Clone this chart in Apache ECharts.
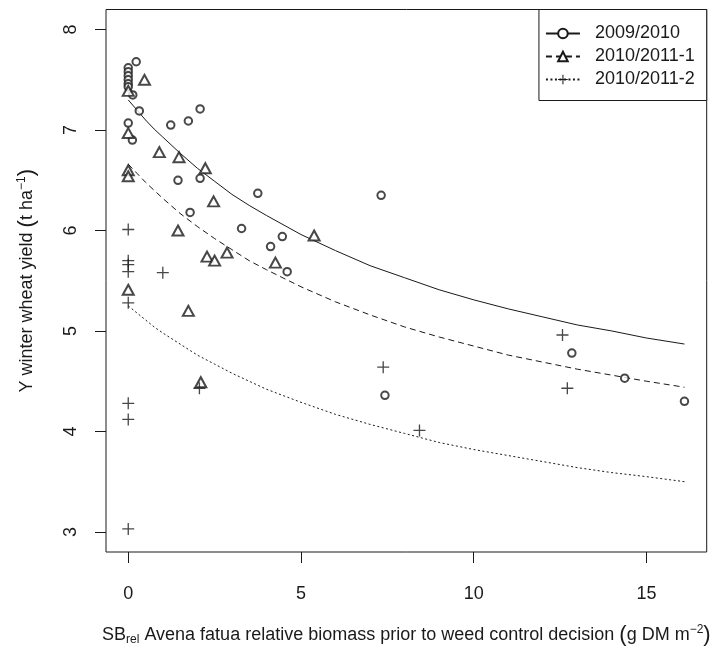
<!DOCTYPE html>
<html>
<head>
<meta charset="utf-8">
<script src="https://cdn.jsdelivr.net/npm/echarts@6/dist/echarts.min.js"></script>
<style>
html,body{margin:0;padding:0;background:#fff;}
#chart{width:718px;height:651px;}
</style>
</head>
<body>
<div id="chart"></div>
<script>
// ---- data ----
var seriesNames = ['2009/2010', '2010/2011-1', '2010/2011-2'];
var xTicks = [0, 5, 10, 15];
var yTicks = [3, 4, 5, 6, 7, 8];

var obs2009 = [
  [0, 7.62], [0, 7.58], [0, 7.54], [0, 7.50], [0, 7.46], [0, 7.43],
  [0.23, 7.68], [0.13, 7.35], [0.32, 7.19], [0, 7.07], [0.12, 6.90],
  [1.23, 7.05], [1.74, 7.09], [2.08, 7.21], [1.44, 6.50], [2.08, 6.52],
  [3.75, 6.37], [1.79, 6.18], [3.28, 6.02], [4.46, 5.94], [4.12, 5.84],
  [4.60, 5.59], [7.32, 6.35], [7.43, 4.36], [12.84, 4.78], [14.37, 4.53],
  [16.10, 4.30]
];
var obs2010a = [
  [0, 7.39], [0.47, 7.50], [0, 6.97], [0.90, 6.78], [1.47, 6.73],
  [2.23, 6.62], [0, 6.60], [0, 6.54], [2.47, 6.29], [1.44, 6.00],
  [5.38, 5.95], [2.28, 5.74], [2.50, 5.70], [2.86, 5.78], [4.26, 5.68],
  [0, 5.41], [1.74, 5.20], [2.10, 4.49]
];
var obs2010b = [
  [0, 6.01], [0, 5.70], [0, 5.66], [0, 5.59], [1.00, 5.58], [0, 5.28],
  [2.06, 4.43], [0, 4.28], [0, 4.12], [0, 3.03], [7.38, 4.64],
  [8.43, 4.01], [12.57, 4.96], [12.71, 4.43]
];

// fitted curves
var curveX   = [0, 0.25, 0.5, 0.75, 1, 1.5, 2, 2.5, 3, 3.5, 4, 5, 6, 7, 8, 9, 10, 11, 12, 13, 14, 15, 16.1];
var fit2009  = [7.30, 7.20, 7.10, 7.01, 6.93, 6.77, 6.62, 6.49, 6.36, 6.25, 6.15, 5.96, 5.80, 5.65, 5.53, 5.41, 5.31, 5.22, 5.14, 5.06, 5.00, 4.93, 4.87];
var fit2010a = [6.66, 6.57, 6.48, 6.40, 6.32, 6.17, 6.04, 5.92, 5.81, 5.70, 5.61, 5.44, 5.29, 5.16, 5.04, 4.94, 4.85, 4.76, 4.69, 4.62, 4.56, 4.50, 4.44];
var fit2010b = [5.25, 5.18, 5.11, 5.04, 4.98, 4.87, 4.76, 4.67, 4.58, 4.50, 4.42, 4.29, 4.17, 4.07, 3.98, 3.89, 3.82, 3.76, 3.70, 3.64, 3.59, 3.55, 3.50];

function pairs(xs, ys) { return xs.map(function (x, i) { return [x, ys[i]]; }); }

var INK = '#1a1a1a';
var FONT = '"Liberation Sans", Arial, sans-serif';
var PLUS = 'path://M0,4.45 L10,4.45 L10,5.55 L0,5.55 Z M4.45,0 L5.55,0 L5.55,10 L4.45,10 Z';
var symbols = ['emptyCircle', 'emptyTriangle', PLUS];
var symSizes = [7.5, [11, 10], 12];
var dashes = ['solid', [6, 4], [2, 2.5]];
var curves = [fit2009, fit2010a, fit2010b];
var obs = [obs2009, obs2010a, obs2010b];

var series = [];
seriesNames.forEach(function (name, i) {
  series.push({
    name: name, type: 'line', data: pairs(curveX, curves[i]),
    smooth: false, showSymbol: false,
    symbol: symbols[i], symbolSize: symSizes[i],
    lineStyle: { color: INK, width: 1, type: dashes[i] },
    itemStyle: { color: INK, borderColor: INK },
    silent: true, animation: false, z: 2
  });
});
seriesNames.forEach(function (name, i) {
  series.push({
    name: name, type: 'scatter', data: obs[i],
    symbol: symbols[i], symbolSize: symSizes[i],
    itemStyle: i === 2 ? { color: INK } : { color: INK, borderColor: INK, borderWidth: 1 },
    animation: false, z: 3
  });
});

var chart = echarts.init(document.getElementById('chart'), null, { renderer: 'canvas' });
chart.setOption({
  backgroundColor: '#fff',
  animation: false,
  textStyle: { fontFamily: FONT, color: INK },
  grid: { left: 106, right: 11.3, top: 9.5, bottom: 87.7, show: true, borderColor: INK, borderWidth: 1, backgroundColor: 'transparent' },
  legend: {
    data: seriesNames, orient: 'vertical', right: 11.3, top: 9.5,
    backgroundColor: '#fff', borderColor: INK, borderWidth: 1, borderRadius: 0,
    padding: [15, 12, 12, 6], itemWidth: 34, itemHeight: 12, itemGap: 5,
    textStyle: { fontSize: 18, color: INK, fontFamily: FONT, padding: [0, 0, 0, 10] },
    selectedMode: false
  },
  xAxis: {
    type: 'value', min: -0.644, max: 16.744,
    axisLine: { show: false, onZero: false }, splitLine: { show: false },
    axisTick: { show: true, length: 11, customValues: xTicks, lineStyle: { color: INK } },
    axisLabel: { customValues: xTicks, margin: 33, fontSize: 18, color: INK, fontFamily: FONT },
    name: 'SB{sub|rel} Avena fatua relative biomass prior to weed control decision {par|(}g DM m{sup|\u22122}{par|)}',
    nameLocation: 'middle', nameGap: 72,
    nameTextStyle: {
      fontSize: 18, color: INK, fontFamily: FONT, lineHeight: 22,
      rich: {
        sub: { fontSize: 12, lineHeight: 12, verticalAlign: 'bottom', color: INK, fontFamily: FONT },
        sup: { fontSize: 12, lineHeight: 12, verticalAlign: 'top', color: INK, fontFamily: FONT },
        par: { fontSize: 22, lineHeight: 22, color: INK, fontFamily: FONT }
      }
    }
  },
  yAxis: {
    type: 'value', min: 2.8, max: 8.2,
    axisLine: { show: false, onZero: false }, splitLine: { show: false },
    axisTick: { show: true, length: 11, customValues: yTicks, lineStyle: { color: INK } },
    axisLabel: { customValues: yTicks, rotate: 90, margin: 26, fontSize: 18, color: INK, fontFamily: FONT },
    name: 'Y winter wheat yield {par|(}t ha{sup|\u22121}{par|)}',
    nameLocation: 'middle', nameGap: 68, nameRotate: 90,
    nameTextStyle: {
      fontSize: 18, color: INK, fontFamily: FONT, lineHeight: 22,
      rich: {
        sup: { fontSize: 12, lineHeight: 12, verticalAlign: 'top', color: INK, fontFamily: FONT },
        par: { fontSize: 22, lineHeight: 22, color: INK, fontFamily: FONT }
      }
    }
  },
  series: series
});
</script>
</body>
</html>
